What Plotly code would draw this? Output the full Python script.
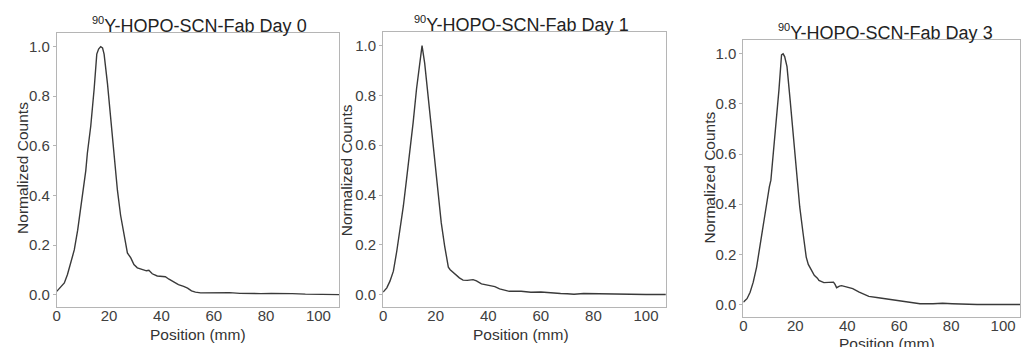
import plotly.graph_objects as go

# ---- data ----
day0_x = [0, 1.6, 2.9, 4.1, 5.4, 6.7, 8.0, 9.2, 10.5, 11.1, 11.7, 13.0, 14.3, 15.3, 16.0, 16.8, 17.5, 18.1,
          19.4, 20.6, 21.9, 23.2, 24.4, 25.7, 27.0, 28.3, 29.5, 30.8, 32.0, 33.3, 34.3, 35.2, 36.5, 38.4,
          40.3, 41.5, 42.9, 44.8, 46.5, 48.5, 50.0, 51.5, 53.0, 55, 58, 62, 66, 70, 74, 78, 82, 86, 90,
          95, 100, 104, 108]
day0_y = [0.013, 0.034, 0.047, 0.081, 0.128, 0.18, 0.26, 0.356, 0.45, 0.50, 0.57, 0.68, 0.83, 0.97, 0.99,
          1.0, 0.995, 0.97, 0.85, 0.71, 0.56, 0.42, 0.32, 0.235, 0.168, 0.148, 0.121, 0.108, 0.103, 0.098,
          0.096, 0.098, 0.084, 0.075, 0.073, 0.072, 0.062, 0.050, 0.040, 0.033, 0.026, 0.015, 0.010, 0.007,
          0.008, 0.007, 0.008, 0.005, 0.003, 0.004, 0.005, 0.003, 0.004, 0.002, 0.002, 0.001, 0.0]

day1_x = [0, 1.4, 2.6, 3.9, 5.2, 6.4, 7.7, 8.9, 10.2, 11.4, 12.7, 14.0, 14.8, 15.8, 17.1, 18.4, 19.6, 20.9,
          22.1, 23.4, 24.2, 24.8, 25.5, 27.3, 29.0, 30.4, 32.0, 34.2, 35.5, 37.4, 39.5, 41.1, 42.5, 44.3,
          46, 48.0, 52.5, 56.2, 60.0, 63.8, 67.5, 70, 72.6, 76.3, 80.1, 85.2, 91.4, 100, 108]
day1_y = [0.01, 0.027, 0.054, 0.094, 0.175, 0.26, 0.356, 0.463, 0.57, 0.69, 0.826, 0.946, 1.0, 0.93, 0.80,
          0.664, 0.53, 0.396, 0.289, 0.195, 0.14, 0.11, 0.10, 0.081, 0.067, 0.058, 0.057, 0.06, 0.055,
          0.043, 0.038, 0.036, 0.032, 0.023, 0.018, 0.013, 0.013, 0.009, 0.010, 0.006, 0.004, 0.003,
          0.001, 0.004, 0.003, 0.001, 0.0, 0.0, 0.0]

day3_x = [0, 1.4, 2.6, 3.8, 5.1, 6.3, 7.5, 8.8, 10.0, 10.6, 11.2, 12.5, 13.7, 14.7, 15.3, 15.9, 16.8, 18.0,
          19.3, 20.5, 21.7, 23.0, 24.2, 25.0, 26.0, 27.3, 28.5, 29.1, 31.0, 33.4, 34.7, 35.3, 35.9, 37.0,
          37.8, 39.6, 40.9, 42.1, 44.6, 48.3, 52.0, 56.9, 60.6, 64.3, 68.0, 73.0, 76.7, 80.4, 85.3, 90, 110]
day3_y = [0.009, 0.023, 0.049, 0.089, 0.149, 0.229, 0.316, 0.403, 0.469, 0.496, 0.563, 0.709, 0.856, 0.996,
          1.0, 0.989, 0.949, 0.816, 0.669, 0.523, 0.389, 0.283, 0.189, 0.16, 0.140, 0.116, 0.105, 0.096,
          0.087, 0.087, 0.089, 0.08, 0.067, 0.073, 0.075, 0.070, 0.067, 0.063, 0.049, 0.032, 0.027,
          0.019, 0.016, 0.008, 0.003, 0.003, 0.005, 0.003, 0.001, 0.0, 0.0]

sup = "<sup><span style='font-size:11px'>90</span></sup>"
titles = [sup + "Y-HOPO-SCN-Fab Day 0",
          sup + "Y-HOPO-SCN-Fab Day 1",
          sup + "Y-HOPO-SCN-Fab Day 3"]
x_label = "Position (mm)"
y_label = "Normalized Counts"
x_ticks = [0, 20, 40, 60, 80, 100]
y_ticks = [0.0, 0.2, 0.4, 0.6, 0.8, 1.0]

W, H = 1021, 347

def px_x(p):
    return p / W

def px_y(p):
    return 1 - p / H

# panel boxes in pixels: (left, right, top, bottom)
boxes = [(53, 337, 33, 307), (381, 665, 32, 307), (743, 1021, 40, 317)]
xranges = [[0, 108], [0, 107.5], [0, 106.5]]

fig = go.Figure()
series = [(day0_x, day0_y), (day1_x, day1_y), (day3_x, day3_y)]
for i, (xs, ys) in enumerate(series):
    sfx = "" if i == 0 else str(i + 1)
    fig.add_trace(go.Scatter(x=xs, y=ys, mode="lines",
                             line=dict(color="#3a3a3a", width=1.4),
                             xaxis="x" + sfx, yaxis="y" + sfx, showlegend=False))

axis_font = dict(family="Liberation Sans, Arial, sans-serif", size=15, color="#404040")
for i, (l, r, t, b) in enumerate(boxes):
    sfx = "" if i == 0 else str(i + 1)
    fig.layout["xaxis" + sfx] = dict(
        domain=[px_x(l), min(px_x(r), 1.0)], anchor="y" + sfx, range=xranges[i],
        tickvals=x_ticks, ticktext=[str(v) for v in x_ticks], showgrid=False, zeroline=False,
        showline=True, mirror=True, linecolor="#b5b5b5", linewidth=1,
        ticks="", ticklabeloverflow="allow", ticklabelstandoff=-5, tickfont=axis_font)
    fig.layout["yaxis" + sfx] = dict(
        domain=[px_y(b), px_y(t)], anchor="x" + sfx, range=[-0.05, 1.055],
        tickvals=y_ticks, ticktext=["%.1f" % v for v in y_ticks], showgrid=False, zeroline=False,
        showline=True, mirror=True, linecolor="#b5b5b5", linewidth=1,
        ticks="outside", ticklen=3, tickcolor="#b5b5b5", ticklabeloverflow="allow", tickfont=axis_font)

title_font = dict(family="Liberation Sans, Arial, sans-serif", size=18, color="#222222")
label_font = dict(family="Liberation Sans, Arial, sans-serif", size=15.5, color="#333333")
title_pos = [(196, 25), (520, 24), (886, 32)]
xlab_pos = [(195, 334), (520, 334), (887, 343)]
ylab_pos = [(18, 168), (345, 170), (708, 178)]
ann = []
for i in range(3):
    tx, ty = title_pos[i]
    ann.append(dict(text=titles[i], x=px_x(tx), y=px_y(ty), xref="paper", yref="paper",
                    xanchor="center", yanchor="middle", showarrow=False, font=title_font))
    lx, ly = xlab_pos[i]
    ann.append(dict(text=x_label, x=px_x(lx), y=px_y(ly), xref="paper", yref="paper",
                    xanchor="center", yanchor="middle", showarrow=False, font=label_font))
    yx, yy = ylab_pos[i]
    ann.append(dict(text=y_label, x=px_x(yx), y=px_y(yy), xref="paper", yref="paper",
                    xanchor="center", yanchor="middle", showarrow=False, font=label_font,
                    textangle=-90))

fig.update_layout(width=W, height=H, margin=dict(l=0, r=0, t=0, b=0),
                  paper_bgcolor="white", plot_bgcolor="white", annotations=ann)

fig.write_html("out.html")
